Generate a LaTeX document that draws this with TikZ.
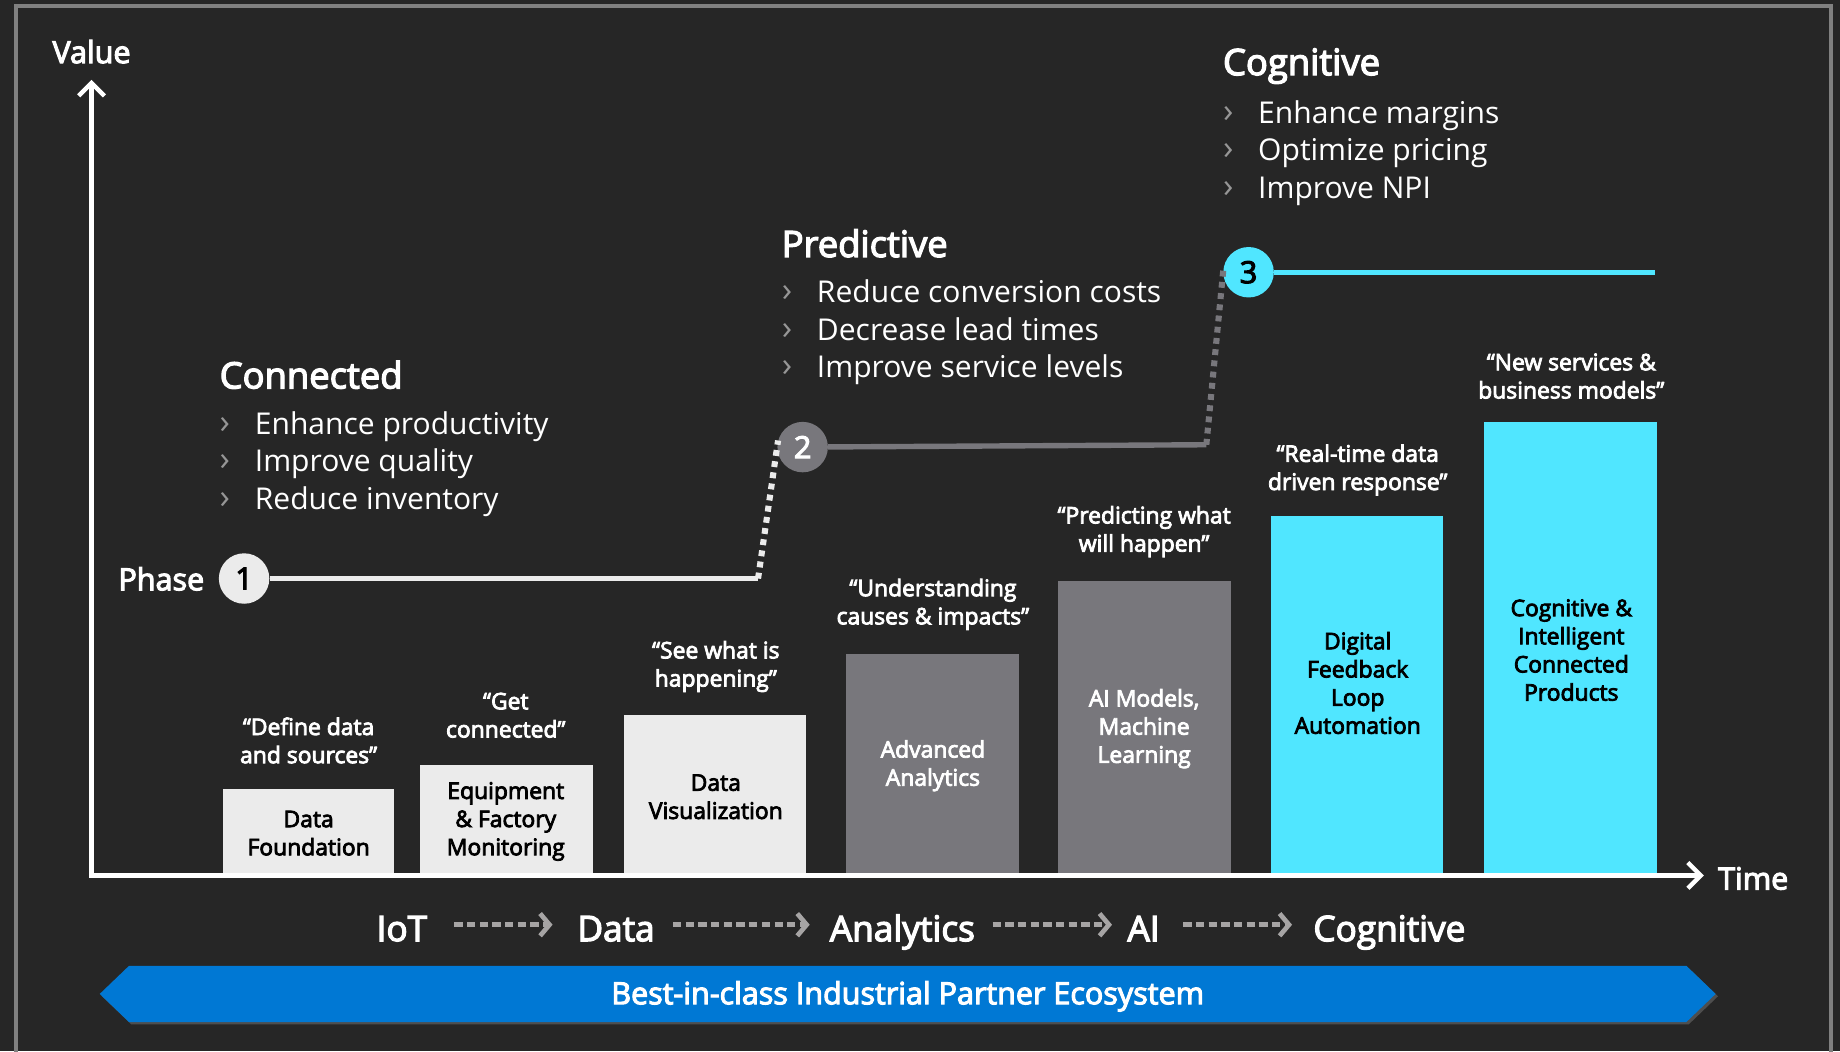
\documentclass[tikz,border=0pt]{standalone}
\usepackage{fontspec}
\setmainfont{Open Sans}
\newfontfamily\semib[FakeBold=3.5]{Open Sans}
\usetikzlibrary{arrows.meta,calc,shadows}
\definecolor{bg}{RGB}{38,38,38}
\definecolor{framegray}{RGB}{128,128,128}
\definecolor{lightbar}{RGB}{235,235,235}
\definecolor{graybar}{RGB}{120,119,124}
\definecolor{cyanbar}{RGB}{80,230,255}
\definecolor{bannerblue}{RGB}{0,120,212}
\definecolor{dashgray}{RGB}{166,164,164}
\definecolor{chevgray}{RGB}{150,150,150}
\newcommand{\chv}{\makebox[30pt][l]{\raisebox{1pt}{\fontsize{29}{30}\selectfont\color{chevgray}›}}}
\begin{document}
\begin{tikzpicture}[x=1pt,y=-1pt,
  bar/.style={rectangle, inner sep=0pt, draw=none},
  bartext/.style={align=center, font=\semib\fontsize{19.5}{24}\selectfont, inner sep=0pt},
  quote/.style={align=center, font=\semib\fontsize{19.5}{24}\selectfont, text=white, inner sep=0pt},
  heading/.style={anchor=base west, font=\semib\fontsize{31}{34}\selectfont, text=white, inner sep=0pt},
  bul/.style={anchor=base west, font=\fontsize{25.6}{30}\selectfont, text=white, inner sep=0pt},
  axislbl/.style={font=\semib\fontsize{26}{30}\selectfont, text=white, inner sep=0pt},
  phasecirc/.style={circle, minimum size=43pt, inner sep=0pt, font=\semib\fontsize{26}{28}\selectfont},
  pline/.style={line width=4.6pt},
  pdot/.style={line width=5.2pt, dash pattern=on 5pt off 4.6pt},
  flow/.style={anchor=base, font=\semib\fontsize{30}{34}\selectfont, text=white, inner sep=0pt, text height=28pt, text depth=0pt},
  dasharrow/.style={draw=dashgray, line width=4.2pt, dash pattern=on 7pt off 3.8pt, -{Straight Barb[length=8pt,width=19pt,line width=4pt]}},
  axisline/.style={draw=white, line width=3.8pt, line join=miter}
]
\useasboundingbox (0,0) rectangle (1568,896);
\fill[bg] (0,0) rectangle (1568,896);
\draw[framegray, line width=3.8pt] (13.6,5) rectangle (1560.5,930);

% bars
\node[bar, fill=lightbar, minimum width=146pt, minimum height=74pt]  (b1) at (263,709) {};
\node[bar, fill=lightbar, minimum width=147pt, minimum height=94pt]  (b2) at (431.5,699) {};
\node[bar, fill=lightbar, minimum width=155pt, minimum height=137pt] (b3) at (609.5,677.5) {};
\node[bar, fill=graybar,  minimum width=147pt, minimum height=189pt] (b4) at (794.5,651.5) {};
\node[bar, fill=graybar,  minimum width=147pt, minimum height=251pt] (b5) at (975.5,620.5) {};
\node[bar, fill=cyanbar,  minimum width=147pt, minimum height=306pt] (b6) at (1156.5,593) {};
\node[bar, fill=cyanbar,  minimum width=147pt, minimum height=386pt] (b7) at (1338.5,553) {};

% bar texts
\node[bartext, text=black] (t1) at (263,710) {Data\\Foundation};
\node[bartext, text=black] (t2) at (431,700) {Equipment\\\& Factory\\Monitoring};
\node[bartext, text=black] (t3) at (610,679) {Data\\Visualization};
\node[bartext, text=white] (t4) at (795,652.5) {Advanced\\Analytics};
\node[bartext, text=white] (t5) at (975,621) {AI Models,\\Machine\\Learning};
\node[bartext, text=black] (t6) at (1157,582) {Digital\\Feedback\\Loop\\Automation};
\node[bartext, text=black] (t7) at (1339,554) {Cognitive \&\\Intelligent\\Connected\\Products};

% quotes
\node[quote] (q1) at (263,631) {“Define data\\and sources”};
\node[quote] (q2) at (431,609.5) {“Get\\connected”};
\node[quote] (q3) at (610,568) {“See what is\\happening”};
\node[quote] (q4) at (795,515) {“Understanding\\causes \& impacts”};
\node[quote] (q5) at (975,453) {“Predicting what\\will happen”};
\node[quote] (q6) at (1157,400.5) {“Real-time data\\driven response”};
\node[quote] (q7) at (1339,320.5) {“New services \&\\business models”};

% axes
\coordinate (ytop) at (78,68);
\coordinate (orig) at (78,746);
\coordinate (xend) at (1452,746);
\draw[axisline, {Straight Barb[length=11pt,width=22pt]}-{Straight Barb[length=11pt,width=22pt]}] (ytop) -- (orig) -- (xend);
\node[axislbl] (value) at (78,44) {Value};
\node[axislbl, anchor=base west] (time) at (1464,758) {Time};

% phases
\node[axislbl, anchor=base] (phaselbl) at (137.5,503) {Phase};
\node[phasecirc, fill=lightbar, text=black] (p1) at (208,493) {1};
\node[phasecirc, fill=graybar, text=white] (p2) at (684,381) {2};
\node[phasecirc, fill=cyanbar, text=black] (p3) at (1064,232) {3};
\coordinate (e1) at (646,493);
\coordinate (e2) at (1028,379);
\coordinate (e3) at (1410,232);
\draw[pline, lightbar] (p1) -- (e1);
\draw[pdot, lightbar] (e1) -- (p2.165);
\draw[pline, graybar] (p2) -- (e2);
\draw[pdot, graybar] (e2) -- (p3.170);
\draw[pline, cyanbar] (p3) -- (e3);

% headings and bullets
\node[heading] (hconn) at (187,331) {Connected};
\node[bul] (c1) at (187,370) {\chv Enhance productivity};
\node[bul] (c2) at (187,402) {\chv Improve quality};
\node[bul] (c3) at (187,434) {\chv Reduce inventory};
\node[heading] (hpred) at (666,219) {Predictive};
\node[bul] (r1) at (666,258) {\chv Reduce conversion costs};
\node[bul] (r2) at (666,290) {\chv Decrease lead times};
\node[bul] (r3) at (666,322) {\chv Improve service levels};
\node[heading] (hcog) at (1042,64) {Cognitive};
\node[bul] (g1) at (1042,105) {\chv Enhance margins};
\node[bul] (g2) at (1042,137) {\chv Optimize pricing};
\node[bul] (g3) at (1042,169) {\chv Improve NPI};

% flow
\node[flow] (iot) at (342.5,802) {IoT};
\node[flow] (data) at (525,802) {Data};
\node[flow] (analytics) at (769,802) {Analytics};
\node[flow] (ai) at (974.5,802) {AI};
\node[flow] (cogn) at (1184,802) {Cognitive};
\draw[dasharrow, shorten <=23pt, shorten >=21pt] (iot.east) -- (data.west);
\draw[dasharrow, shorten <=15.5pt, shorten >=17pt] (data.east) -- (analytics.west);
\draw[dasharrow, shorten <=15pt, shorten >=13pt] (analytics.east) -- (ai.west);
\draw[dasharrow, shorten <=20pt, shorten >=18pt] (ai.east) -- (cogn.west);

% banner
\fill[bannerblue, drop shadow={shadow xshift=2pt, shadow yshift=-2pt, opacity=0.45}]
  (85,847) -- (110,823) -- (1437,823) -- (1462,847) -- (1437,871) -- (110,871) -- cycle;
\node[font=\semib\fontsize{26}{30}\selectfont, text=white, inner sep=0pt] (eco) at (773.5,849) {Best-in-class Industrial Partner Ecosystem};
\end{tikzpicture}
\end{document}
